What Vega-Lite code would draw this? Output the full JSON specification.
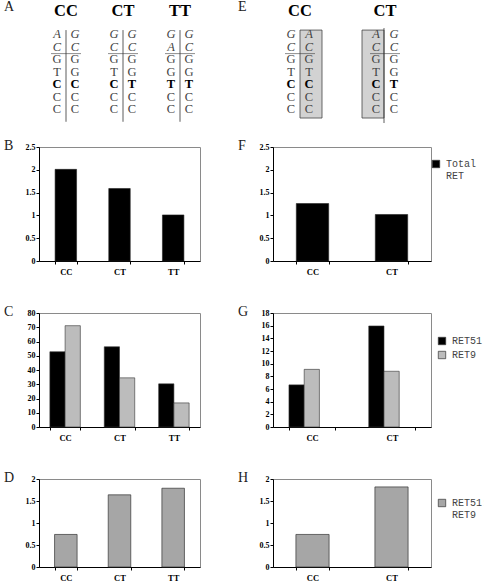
{
  "$schema": "https://vega.github.io/schema/vega-lite/v6.json",
  "autosize": {"type": "pad"},
  "padding": {"left": 3, "top": 0, "right": 0, "bottom": 0},
  "background": "white",
  "datasets": {
    "seqA": [
      {"g":"CC","s":"L","r":1,"t":"A"},{"g":"CC","s":"L","r":2,"t":"C"},{"g":"CC","s":"L","r":3,"t":"G"},{"g":"CC","s":"L","r":4,"t":"T"},{"g":"CC","s":"L","r":5,"t":"C"},{"g":"CC","s":"L","r":6,"t":"C"},{"g":"CC","s":"L","r":7,"t":"C"},
      {"g":"CC","s":"R","r":1,"t":"G"},{"g":"CC","s":"R","r":2,"t":"C"},{"g":"CC","s":"R","r":3,"t":"G"},{"g":"CC","s":"R","r":4,"t":"G"},{"g":"CC","s":"R","r":5,"t":"C"},{"g":"CC","s":"R","r":6,"t":"C"},{"g":"CC","s":"R","r":7,"t":"C"},
      {"g":"CT","s":"L","r":1,"t":"G"},{"g":"CT","s":"L","r":2,"t":"C"},{"g":"CT","s":"L","r":3,"t":"G"},{"g":"CT","s":"L","r":4,"t":"T"},{"g":"CT","s":"L","r":5,"t":"C"},{"g":"CT","s":"L","r":6,"t":"C"},{"g":"CT","s":"L","r":7,"t":"C"},
      {"g":"CT","s":"R","r":1,"t":"G"},{"g":"CT","s":"R","r":2,"t":"C"},{"g":"CT","s":"R","r":3,"t":"G"},{"g":"CT","s":"R","r":4,"t":"G"},{"g":"CT","s":"R","r":5,"t":"T"},{"g":"CT","s":"R","r":6,"t":"C"},{"g":"CT","s":"R","r":7,"t":"C"},
      {"g":"TT","s":"L","r":1,"t":"G"},{"g":"TT","s":"L","r":2,"t":"A"},{"g":"TT","s":"L","r":3,"t":"G"},{"g":"TT","s":"L","r":4,"t":"G"},{"g":"TT","s":"L","r":5,"t":"T"},{"g":"TT","s":"L","r":6,"t":"C"},{"g":"TT","s":"L","r":7,"t":"C"},
      {"g":"TT","s":"R","r":1,"t":"G"},{"g":"TT","s":"R","r":2,"t":"C"},{"g":"TT","s":"R","r":3,"t":"G"},{"g":"TT","s":"R","r":4,"t":"G"},{"g":"TT","s":"R","r":5,"t":"T"},{"g":"TT","s":"R","r":6,"t":"C"},{"g":"TT","s":"R","r":7,"t":"C"}
    ],
    "seqE": [
      {"g":"CC","s":"L","r":1,"t":"G"},{"g":"CC","s":"L","r":2,"t":"C"},{"g":"CC","s":"L","r":3,"t":"G"},{"g":"CC","s":"L","r":4,"t":"T"},{"g":"CC","s":"L","r":5,"t":"C"},{"g":"CC","s":"L","r":6,"t":"C"},{"g":"CC","s":"L","r":7,"t":"C"},
      {"g":"CC","s":"R","r":1,"t":"A"},{"g":"CC","s":"R","r":2,"t":"C"},{"g":"CC","s":"R","r":3,"t":"G"},{"g":"CC","s":"R","r":4,"t":"T"},{"g":"CC","s":"R","r":5,"t":"C"},{"g":"CC","s":"R","r":6,"t":"C"},{"g":"CC","s":"R","r":7,"t":"C"},
      {"g":"CT","s":"L","r":1,"t":"A"},{"g":"CT","s":"L","r":2,"t":"C"},{"g":"CT","s":"L","r":3,"t":"G"},{"g":"CT","s":"L","r":4,"t":"T"},{"g":"CT","s":"L","r":5,"t":"C"},{"g":"CT","s":"L","r":6,"t":"C"},{"g":"CT","s":"L","r":7,"t":"C"},
      {"g":"CT","s":"R","r":1,"t":"G"},{"g":"CT","s":"R","r":2,"t":"C"},{"g":"CT","s":"R","r":3,"t":"G"},{"g":"CT","s":"R","r":4,"t":"G"},{"g":"CT","s":"R","r":5,"t":"T"},{"g":"CT","s":"R","r":6,"t":"C"},{"g":"CT","s":"R","r":7,"t":"C"}
    ]
  },
  "columns": 2,
  "spacing": {"row": 52, "column": 73},
  "bounds": "flush",
  "align": "each",
  "resolve": {
    "scale": {"x": "independent", "y": "independent", "color": "independent"},
    "legend": {"color": "independent"},
    "axis": {"x": "independent", "y": "independent"}
  },
  "concat": [
    {
      "width": 161, "height": 94,
      "view": {"stroke": null},
      "title": {"text": "A", "dy": 17},
      "resolve": {"scale": {"x": "independent"}},
      "layer": [
        {
          "data": {"values": [{"g":"CC"},{"g":"CT"},{"g":"TT"}]},
          "mark": {"type": "rule", "color": "#333", "strokeWidth": 0.8},
          "encoding": {
            "x": {"field": "g", "type": "nominal", "scale": {"domain": ["CC","CT","TT"], "range": [-1.5, 169.5], "paddingInner": 0, "paddingOuter": 0}, "axis": null},
            "y": {"datum": 0.66, "type": "quantitative", "scale": {"domain": [-1.667, 5.857], "reverse": true, "nice": false, "zero": false}, "axis": null},
            "y2": {"datum": 8.0}
          }
        },
        {
          "data": {"values": [{"g":"CC"},{"g":"CT"},{"g":"TT"}]},
          "mark": {"type": "tick", "orient": "horizontal", "size": 30, "thickness": 0.8, "color": "#333"},
          "encoding": {
            "x": {"field": "g", "type": "nominal", "scale": {"domain": ["CC","CT","TT"], "range": [-1.5, 169.5], "paddingInner": 0, "paddingOuter": 0}, "axis": null},
            "y": {"datum": 2.55, "type": "quantitative"}
          }
        },
        {
          "data": {"values": [{"g":"CC"},{"g":"CT"},{"g":"TT"}]},
          "mark": {"type": "text", "fontSize": 16.5, "fontWeight": "bold", "color": "#000", "font": "Liberation Serif", "baseline": "middle"},
          "encoding": {
            "x": {"field": "g", "type": "nominal", "scale": {"domain": ["CC","CT","TT"], "range": [-1.5, 169.5], "paddingInner": 0, "paddingOuter": 0}, "axis": null},
            "y": {"datum": -0.85, "type": "quantitative"},
            "text": {"field": "g"}
          }
        },
        {
          "data": {"name": "seqA"},
          "transform": [{"filter": "datum.r <= 2 && datum.s == 'L'"}],
          "mark": {"type": "text", "fontSize": 12.5, "fontStyle": "italic", "color": "#444", "font": "Liberation Serif", "baseline": "middle"},
          "encoding": {
            "x": {"field": "g", "type": "nominal", "scale": {"domain": ["CC","CT","TT"], "range": [-10.5, 160.5], "paddingInner": 0, "paddingOuter": 0}, "axis": null},
            "y": {"field": "r", "type": "quantitative"},
            "text": {"field": "t"}
          }
        },
        {
          "data": {"name": "seqA"},
          "transform": [{"filter": "datum.r <= 2 && datum.s == 'R'"}],
          "mark": {"type": "text", "fontSize": 12.5, "fontStyle": "italic", "color": "#444", "font": "Liberation Serif", "baseline": "middle"},
          "encoding": {
            "x": {"field": "g", "type": "nominal", "scale": {"domain": ["CC","CT","TT"], "range": [7.5, 178.5], "paddingInner": 0, "paddingOuter": 0}, "axis": null},
            "y": {"field": "r", "type": "quantitative"},
            "text": {"field": "t"}
          }
        },
        {
          "data": {"name": "seqA"},
          "transform": [{"filter": "datum.r >= 3 && datum.r != 5 && datum.s == 'L'"}],
          "mark": {"type": "text", "fontSize": 12.5, "color": "#444", "font": "Liberation Serif", "baseline": "middle"},
          "encoding": {
            "x": {"field": "g", "type": "nominal", "scale": {"domain": ["CC","CT","TT"], "range": [-10.5, 160.5], "paddingInner": 0, "paddingOuter": 0}, "axis": null},
            "y": {"field": "r", "type": "quantitative"},
            "text": {"field": "t"}
          }
        },
        {
          "data": {"name": "seqA"},
          "transform": [{"filter": "datum.r >= 3 && datum.r != 5 && datum.s == 'R'"}],
          "mark": {"type": "text", "fontSize": 12.5, "color": "#444", "font": "Liberation Serif", "baseline": "middle"},
          "encoding": {
            "x": {"field": "g", "type": "nominal", "scale": {"domain": ["CC","CT","TT"], "range": [7.5, 178.5], "paddingInner": 0, "paddingOuter": 0}, "axis": null},
            "y": {"field": "r", "type": "quantitative"},
            "text": {"field": "t"}
          }
        },
        {
          "data": {"name": "seqA"},
          "transform": [{"filter": "datum.r == 5 && datum.s == 'L'"}],
          "mark": {"type": "text", "fontSize": 12.5, "fontWeight": "bold", "color": "#000", "font": "Liberation Serif", "baseline": "middle"},
          "encoding": {
            "x": {"field": "g", "type": "nominal", "scale": {"domain": ["CC","CT","TT"], "range": [-10.5, 160.5], "paddingInner": 0, "paddingOuter": 0}, "axis": null},
            "y": {"field": "r", "type": "quantitative"},
            "text": {"field": "t"}
          }
        },
        {
          "data": {"name": "seqA"},
          "transform": [{"filter": "datum.r == 5 && datum.s == 'R'"}],
          "mark": {"type": "text", "fontSize": 12.5, "fontWeight": "bold", "color": "#000", "font": "Liberation Serif", "baseline": "middle"},
          "encoding": {
            "x": {"field": "g", "type": "nominal", "scale": {"domain": ["CC","CT","TT"], "range": [7.5, 178.5], "paddingInner": 0, "paddingOuter": 0}, "axis": null},
            "y": {"field": "r", "type": "quantitative"},
            "text": {"field": "t"}
          }
        }
      ]
    },
    {
      "width": 158, "height": 94,
      "view": {"stroke": null},
      "title": {"text": "E", "dy": 17},
      "resolve": {"scale": {"x": "independent"}},
      "layer": [
        {
          "data": {"values": [{"g":"CC"}]},
          "mark": {"type": "bar", "width": 22, "fill": "#d2d2d2", "stroke": "#444", "strokeWidth": 0.8},
          "encoding": {
            "x": {"field": "g", "type": "nominal", "scale": {"domain": ["CC","CT"], "range": [-4.5, 165.5], "paddingInner": 0, "paddingOuter": 0}, "axis": null},
            "y": {"datum": 0.66, "type": "quantitative", "scale": {"domain": [-1.667, 5.857], "reverse": true, "nice": false, "zero": false}, "axis": null},
            "y2": {"datum": 7.7}
          }
        },
        {
          "data": {"values": [{"g":"CT"}]},
          "mark": {"type": "bar", "width": 22, "fill": "#d2d2d2", "stroke": "#444", "strokeWidth": 0.8},
          "encoding": {
            "x": {"field": "g", "type": "nominal", "scale": {"domain": ["CC","CT"], "range": [-27.5, 142.5], "paddingInner": 0, "paddingOuter": 0}, "axis": null},
            "y": {"datum": 0.66, "type": "quantitative"},
            "y2": {"datum": 7.7}
          }
        },
        {
          "data": {"values": [{"g":"CT"}]},
          "mark": {"type": "rule", "color": "#333", "strokeWidth": 0.8},
          "encoding": {
            "x": {"field": "g", "type": "nominal", "scale": {"domain": ["CC","CT"], "range": [-16.5, 153.5], "paddingInner": 0, "paddingOuter": 0}, "axis": null},
            "y": {"datum": 0.5, "type": "quantitative"},
            "y2": {"datum": 8.1}
          }
        },
        {
          "data": {"values": [{"g":"CC"},{"g":"CT"}]},
          "mark": {"type": "tick", "orient": "horizontal", "size": 30, "thickness": 0.8, "color": "#333"},
          "encoding": {
            "x": {"field": "g", "type": "nominal", "scale": {"domain": ["CC","CT"], "range": [-15.5, 154.5], "paddingInner": 0, "paddingOuter": 0}, "axis": null},
            "y": {"datum": 2.55, "type": "quantitative"}
          }
        },
        {
          "data": {"values": [{"g":"CC"},{"g":"CT"}]},
          "mark": {"type": "text", "fontSize": 16.5, "fontWeight": "bold", "color": "#000", "font": "Liberation Serif", "baseline": "middle"},
          "encoding": {
            "x": {"field": "g", "type": "nominal", "scale": {"domain": ["CC","CT"], "range": [-15.5, 154.5], "paddingInner": 0, "paddingOuter": 0}, "axis": null},
            "y": {"datum": -0.85, "type": "quantitative"},
            "text": {"field": "g"}
          }
        },
        {
          "data": {"name": "seqE"},
          "transform": [{"filter": "datum.r <= 2 && datum.s == 'L'"}],
          "mark": {"type": "text", "fontSize": 12.5, "fontStyle": "italic", "color": "#444", "font": "Liberation Serif", "baseline": "middle"},
          "encoding": {
            "x": {"field": "g", "type": "nominal", "scale": {"domain": ["CC","CT"], "range": [-24.5, 145.5], "paddingInner": 0, "paddingOuter": 0}, "axis": null},
            "y": {"field": "r", "type": "quantitative"},
            "text": {"field": "t"}
          }
        },
        {
          "data": {"name": "seqE"},
          "transform": [{"filter": "datum.r <= 2 && datum.s == 'R'"}],
          "mark": {"type": "text", "fontSize": 12.5, "fontStyle": "italic", "color": "#444", "font": "Liberation Serif", "baseline": "middle"},
          "encoding": {
            "x": {"field": "g", "type": "nominal", "scale": {"domain": ["CC","CT"], "range": [-6.5, 163.5], "paddingInner": 0, "paddingOuter": 0}, "axis": null},
            "y": {"field": "r", "type": "quantitative"},
            "text": {"field": "t"}
          }
        },
        {
          "data": {"name": "seqE"},
          "transform": [{"filter": "datum.r >= 3 && datum.r != 5 && datum.s == 'L'"}],
          "mark": {"type": "text", "fontSize": 12.5, "color": "#444", "font": "Liberation Serif", "baseline": "middle"},
          "encoding": {
            "x": {"field": "g", "type": "nominal", "scale": {"domain": ["CC","CT"], "range": [-24.5, 145.5], "paddingInner": 0, "paddingOuter": 0}, "axis": null},
            "y": {"field": "r", "type": "quantitative"},
            "text": {"field": "t"}
          }
        },
        {
          "data": {"name": "seqE"},
          "transform": [{"filter": "datum.r >= 3 && datum.r != 5 && datum.s == 'R'"}],
          "mark": {"type": "text", "fontSize": 12.5, "color": "#444", "font": "Liberation Serif", "baseline": "middle"},
          "encoding": {
            "x": {"field": "g", "type": "nominal", "scale": {"domain": ["CC","CT"], "range": [-6.5, 163.5], "paddingInner": 0, "paddingOuter": 0}, "axis": null},
            "y": {"field": "r", "type": "quantitative"},
            "text": {"field": "t"}
          }
        },
        {
          "data": {"name": "seqE"},
          "transform": [{"filter": "datum.r == 5 && datum.s == 'L'"}],
          "mark": {"type": "text", "fontSize": 12.5, "fontWeight": "bold", "color": "#000", "font": "Liberation Serif", "baseline": "middle"},
          "encoding": {
            "x": {"field": "g", "type": "nominal", "scale": {"domain": ["CC","CT"], "range": [-24.5, 145.5], "paddingInner": 0, "paddingOuter": 0}, "axis": null},
            "y": {"field": "r", "type": "quantitative"},
            "text": {"field": "t"}
          }
        },
        {
          "data": {"name": "seqE"},
          "transform": [{"filter": "datum.r == 5 && datum.s == 'R'"}],
          "mark": {"type": "text", "fontSize": 12.5, "fontWeight": "bold", "color": "#000", "font": "Liberation Serif", "baseline": "middle"},
          "encoding": {
            "x": {"field": "g", "type": "nominal", "scale": {"domain": ["CC","CT"], "range": [-6.5, 163.5], "paddingInner": 0, "paddingOuter": 0}, "axis": null},
            "y": {"field": "r", "type": "quantitative"},
            "text": {"field": "t"}
          }
        }
      ]
    },
    {
      "width": 161, "height": 114,
      "title": {"text": "B", "dy": 14},
      "data": {"values": [{"g":"CC","series":"Total RET","v":2.01},{"g":"CT","series":"Total RET","v":1.59},{"g":"TT","series":"Total RET","v":1.01}]},
      "mark": {"type": "bar", "stroke": "#222", "strokeWidth": 0.6},
      "encoding": {
        "x": {"field": "g", "type": "nominal", "sort": null, "title": null, "scale": {"paddingInner": 0.6}},
        "y": {"field": "v", "type": "quantitative", "title": null, "scale": {"domain": [0, 2.5]}, "axis": {"values": [0, 0.5, 1, 1.5, 2, 2.5], "format": "~g"}},
        "color": {"field": "series", "type": "nominal", "scale": {"domain": ["Total RET"], "range": ["#000000"]}, "legend": null}
      }
    },
    {
      "width": 158, "height": 114,
      "title": {"text": "F", "dy": 14},
      "data": {"values": [{"g":"CC","series":"Total RET","v":1.26},{"g":"CT","series":"Total RET","v":1.02}]},
      "mark": {"type": "bar", "stroke": "#222", "strokeWidth": 0.6},
      "encoding": {
        "x": {"field": "g", "type": "nominal", "sort": null, "title": null, "scale": {"paddingInner": 0.59}},
        "y": {"field": "v", "type": "quantitative", "title": null, "scale": {"domain": [0, 2.5]}, "axis": {"values": [0, 0.5, 1, 1.5, 2, 2.5], "format": "~g"}},
        "color": {"field": "series", "type": "nominal", "scale": {"domain": ["Total RET"], "range": ["#000000"]},
          "legend": {"orient": "none", "legendX": 158, "legendY": 12, "title": null, "labelExpr": "split(datum.label, ' ')"}}
      }
    },
    {
      "width": 161, "height": 114,
      "title": {"text": "C", "dy": 14},
      "data": {"values": [
        {"g":"CC","series":"RET51","v":52.8},{"g":"CC","series":"RET9","v":71.1},
        {"g":"CT","series":"RET51","v":56.3},{"g":"CT","series":"RET9","v":34.5},
        {"g":"TT","series":"RET51","v":30.3},{"g":"TT","series":"RET9","v":16.9}
      ]},
      "mark": {"type": "bar", "stroke": "#333", "strokeWidth": 0.6},
      "encoding": {
        "x": {"field": "g", "type": "nominal", "sort": null, "title": null, "scale": {"paddingInner": 0.44}},
        "xOffset": {"field": "series", "type": "nominal", "sort": ["RET51","RET9"]},
        "y": {"field": "v", "type": "quantitative", "title": null, "scale": {"domain": [0, 80]}, "axis": {"values": [0,10,20,30,40,50,60,70,80]}},
        "color": {"field": "series", "type": "nominal", "scale": {"domain": ["RET51","RET9"], "range": ["#000000","#bcbcbc"]}, "legend": null}
      }
    },
    {
      "width": 158, "height": 114,
      "title": {"text": "G", "dy": 14},
      "data": {"values": [
        {"g":"CC","series":"RET51","v":6.65},{"g":"CC","series":"RET9","v":9.1},
        {"g":"CT","series":"RET51","v":15.95},{"g":"CT","series":"RET9","v":8.8}
      ]},
      "mark": {"type": "bar", "stroke": "#333", "strokeWidth": 0.6},
      "encoding": {
        "x": {"field": "g", "type": "nominal", "sort": null, "title": null, "scale": {"paddingInner": 0.42}},
        "xOffset": {"field": "series", "type": "nominal", "sort": ["RET51","RET9"]},
        "y": {"field": "v", "type": "quantitative", "title": null, "scale": {"domain": [0, 18]}, "axis": {"values": [0,2,4,6,8,10,12,14,16,18]}},
        "color": {"field": "series", "type": "nominal", "scale": {"domain": ["RET51","RET9"], "range": ["#000000","#bcbcbc"]},
          "legend": {"orient": "none", "legendX": 164, "legendY": 23, "title": null, "rowPadding": 2}}
      }
    },
    {
      "width": 161, "height": 88,
      "title": {"text": "D", "dy": 14},
      "data": {"values": [{"g":"CC","series":"RET51:  RET9","v":0.74},{"g":"CT","series":"RET51:  RET9","v":1.64},{"g":"TT","series":"RET51:  RET9","v":1.79}]},
      "mark": {"type": "bar", "stroke": "#333", "strokeWidth": 0.7},
      "encoding": {
        "x": {"field": "g", "type": "nominal", "sort": null, "title": null, "scale": {"paddingInner": 0.58}},
        "y": {"field": "v", "type": "quantitative", "title": null, "scale": {"domain": [0, 2]}, "axis": {"values": [0, 0.5, 1, 1.5, 2], "format": "~g"}},
        "color": {"field": "series", "type": "nominal", "scale": {"domain": ["RET51:  RET9"], "range": ["#a6a6a6"]}, "legend": null}
      }
    },
    {
      "width": 158, "height": 88,
      "title": {"text": "H", "dy": 14},
      "data": {"values": [{"g":"CC","series":"RET51:  RET9","v":0.74},{"g":"CT","series":"RET51:  RET9","v":1.82}]},
      "mark": {"type": "bar", "stroke": "#333", "strokeWidth": 0.7},
      "encoding": {
        "x": {"field": "g", "type": "nominal", "sort": null, "title": null, "scale": {"paddingInner": 0.58}},
        "y": {"field": "v", "type": "quantitative", "title": null, "scale": {"domain": [0, 2]}, "axis": {"values": [0, 0.5, 1, 1.5, 2], "format": "~g"}},
        "color": {"field": "series", "type": "nominal", "scale": {"domain": ["RET51:  RET9"], "range": ["#a6a6a6"]},
          "legend": {"orient": "none", "legendX": 164, "legendY": 19, "title": null, "labelExpr": "replace(datum.label, '  ', ' . ') && split(replace(datum.label, '  ', ' \u00a0 '), ' ')"}}
      }
    }
  ],
  "config": {
    "view": {"stroke": "#8a8a8a", "strokeWidth": 1},
    "axis": {
      "labelFont": "Liberation Serif", "labelFontWeight": "bold", "labelFontSize": 8, "labelColor": "#000",
      "domainColor": "#000", "tickColor": "#000", "tickSize": 3, "grid": false, "domainWidth": 1, "tickWidth": 1
    },
    "axisX": {"tickBand": "extent", "labelAngle": 0, "labelPadding": 3, "labelFontSize": 8.5},
    "axisY": {"labelPadding": 1},
    "legend": {
      "labelFont": "Liberation Mono", "labelFontSize": 10, "labelColor": "#444",
      "symbolType": "square", "symbolSize": 55, "symbolStrokeColor": "#333", "symbolStrokeWidth": 0.7,
      "labelOffset": 5, "rowPadding": 3, "padding": 0
    },
    "title": {
      "anchor": "start", "frame": "group", "font": "Liberation Serif", "fontSize": 14, "fontWeight": "normal",
      "color": "#222", "dx": -35, "offset": 0, "baseline": "alphabetic"
    }
  }
}
